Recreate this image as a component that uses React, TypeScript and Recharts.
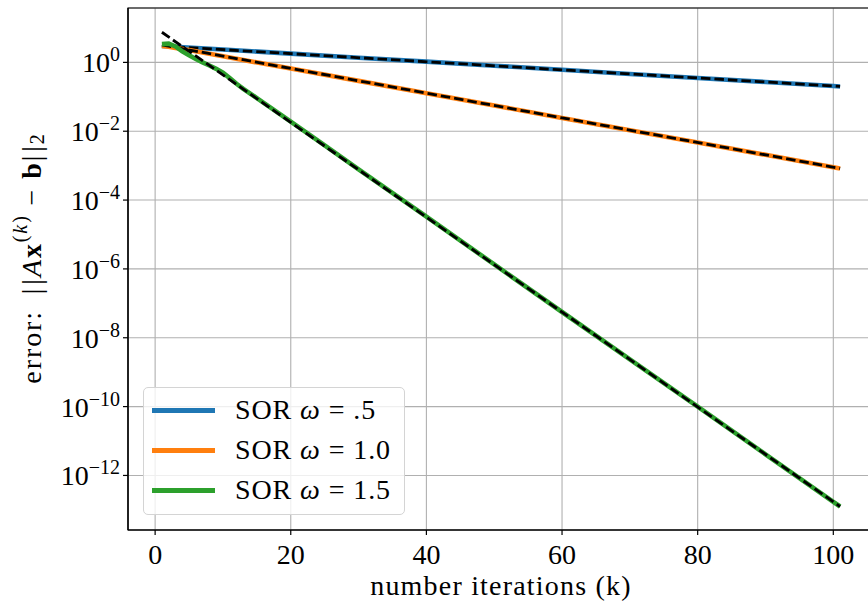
import { LineChart, Line, XAxis, YAxis, CartesianGrid, Legend, ReferenceArea } from "recharts";

const FONT = "'Liberation Serif', 'Times New Roman', serif";

// relaxation factors and their colours
const omegaLabels = [".5", "1.0", "1.5"];
const seriesColors = ["#1f77b4", "#ff7f0e", "#2ca02c"];

// residual norm ||Ax(k) - b||_2 per iteration
const kOmega05 = [1, 10, 20, 30, 40, 50, 60, 70, 80, 90, 100, 101];
const errOmega05 = [3.0, 2.37, 1.8, 1.37, 1.05, 0.8, 0.61, 0.46, 0.353, 0.27, 0.205, 0.2];

const kOmega10 = [1, 2, 3, 5, 10, 20, 30, 40, 50, 60, 70, 80, 90, 100, 101];
const errOmega10 = [3.0, 2.85, 2.6, 2.3, 1.5, 0.66, 0.29, 0.127, 0.056, 0.0244, 0.0107, 4.7e-3, 2.06e-3, 9.0e-4, 8.3e-4];

const kOmega15 = [1, 2, 3, 4, 5, 6, 7, 8, 9, 10, 11, 12, 13, 15, 20, 25, 30, 40, 50, 60, 70, 80, 90, 100, 101];
const errOmega15 = [
  3.4, 3.5, 2.9, 2.1, 1.6, 1.25, 1.0, 0.81, 0.65, 0.5, 0.35, 0.24, 0.17, 0.092, 0.019, 3.9e-3, 7.8e-4,
  3.3e-5, 1.35e-6, 5.6e-8, 2.35e-9, 1.0e-10, 4.1e-12, 1.7e-13, 1.25e-13,
];

// fitted convergence rates C * rho^k, evaluated at the first and last iteration
const kFit = [1, 101];
const fitOmega05 = [3.0, 0.2];
const fitOmega10 = [3.2, 8.3e-4];
const fitOmega15 = [7.5, 1.25e-13];

const xTicks = [0, 20, 40, 60, 80, 100];
const yTicks = [1, 1e-2, 1e-4, 1e-6, 1e-8, 1e-10, 1e-12];
const xDomain = [-4, 106];
const yDomain = [2.6e-14, 38];

const toRows = (ks: number[], vals: number[]) => ks.map((k, i) => ({ k, e: vals[i] }));

const series = [
  { rows: toRows(kOmega05, errOmega05), fit: toRows(kFit, fitOmega05) },
  { rows: toRows(kOmega10, errOmega10), fit: toRows(kFit, fitOmega10) },
  { rows: toRows(kOmega15, errOmega15), fit: toRows(kFit, fitOmega15) },
];

const PowerTick = ({ x, y, payload }: any) => {
  const exp = Math.round(Math.log10(payload.value));
  return (
    <text x={x} y={y + 10} textAnchor="end" fontFamily={FONT} fontSize={28} fill="#000">
      10
      <tspan dy={-11} fontSize={20}>
        {exp < 0 ? `\u2212${-exp}` : `${exp}`}
      </tspan>
    </text>
  );
};

const XTitle = ({ viewBox }: any) => (
  <text
    x={viewBox.x + viewBox.width / 2}
    y={viewBox.y + 65}
    textAnchor="middle"
    fontFamily={FONT}
    fontSize={28}
    letterSpacing={1.2}
    fill="#000"
  >
    number iterations (k)
  </text>
);

const YTitle = ({ viewBox }: any) => {
  const cx = 31;
  const cy = viewBox.y + viewBox.height / 2 - 11;
  return (
    <text
      x={cx}
      y={cy}
      transform={`rotate(-90, ${cx}, ${cy})`}
      textAnchor="middle"
      dominantBaseline="central"
      fontFamily={FONT}
      fontSize={28}
      letterSpacing={1.9}
      fill="#000"
    >
      <tspan>error:</tspan>
      <tspan>{"\u2002"}|</tspan>
      <tspan dx={2}>|</tspan>
      <tspan fontStyle="italic">A</tspan>
      <tspan fontWeight="bold">x</tspan>
      <tspan dy={-11} fontSize={20}>(</tspan>
      <tspan fontSize={20} fontStyle="italic">k</tspan>
      <tspan fontSize={20}>)</tspan>
      <tspan dy={11}>{"\u2005\u2212\u2005"}</tspan>
      <tspan fontWeight="bold">b</tspan>
      <tspan>|</tspan>
      <tspan dx={2}>|</tspan>
      <tspan dy={6} fontSize={20}>2</tspan>
    </text>
  );
};

const SorLegend = () => (
  <div
    style={{
      boxSizing: "border-box",
      width: 262,
      height: 128,
      padding: "2px 8px 6px 8px",
      border: "1px solid #d4d4d4",
      borderRadius: 5,
      background: "rgba(255,255,255,0.8)",
      fontFamily: FONT,
      fontSize: 28,
      color: "#000",
    }}
  >
    {omegaLabels.map((w, i) => (
      <div key={w} style={{ display: "flex", alignItems: "center", height: 40 }}>
        <span style={{ display: "inline-block", width: 63, height: 5, background: seriesColors[i], marginRight: 20 }} />
        <span style={{ letterSpacing: 0.9, whiteSpace: "pre" }}>
          SOR <i>ω</i> = {w}
        </span>
      </div>
    ))}
  </div>
);

export default function App() {
  return (
    <div style={{ position: "fixed", left: 0, top: 0, width: 868, height: 604, overflow: "hidden", background: "#fff" }}>
      <LineChart width={874} height={604} margin={{ top: 8, right: 0, bottom: 0, left: 0 }}>
        <CartesianGrid stroke="#b0b0b0" strokeWidth={1.1} />
        <XAxis
          type="number"
          dataKey="k"
          domain={xDomain}
          ticks={xTicks}
          allowDataOverflow
          height={74}
          tickSize={5}
          tickMargin={9}
          axisLine={{ stroke: "#000", strokeWidth: 1.2 }}
          tickLine={{ stroke: "#000", strokeWidth: 1.2 }}
          tick={{ fontSize: 28, fontFamily: FONT, fill: "#000" }}
          label={<XTitle />}
        />
        <YAxis
          type="number"
          scale="log"
          domain={yDomain}
          ticks={yTicks}
          allowDataOverflow
          width={128}
          tickSize={5}
          tickMargin={3}
          axisLine={{ stroke: "#000", strokeWidth: 1.2 }}
          tickLine={{ stroke: "#000", strokeWidth: 1.2 }}
          tick={<PowerTick />}
          label={<YTitle />}
        />
        <ReferenceArea
          x1={xDomain[0]}
          x2={xDomain[1]}
          y1={yDomain[0]}
          y2={yDomain[1]}
          fill="none"
          stroke="#000"
          strokeWidth={1.2}
          ifOverflow="visible"
        />
        {series.map((s, i) => [
          <Line
            key={`sor-${i}`}
            data={s.rows}
            dataKey="e"
            name={`SOR ω = ${omegaLabels[i]}`}
            type="linear"
            stroke={seriesColors[i]}
            strokeWidth={4.6}
            dot={false}
            activeDot={false}
            isAnimationActive={false}
          />,
          <Line
            key={`fit-${i}`}
            data={s.fit}
            dataKey="e"
            type="linear"
            stroke="#000"
            strokeWidth={2.8}
            strokeDasharray="9.5 4"
            dot={false}
            activeDot={false}
            legendType="none"
            isAnimationActive={false}
          />,
        ])}
        <Legend
          layout="horizontal"
          verticalAlign="middle"
          align="center"
          wrapperStyle={{ left: 143, top: 387, width: 262, height: 128 }}
          content={<SorLegend />}
        />
      </LineChart>
    </div>
  );
}
